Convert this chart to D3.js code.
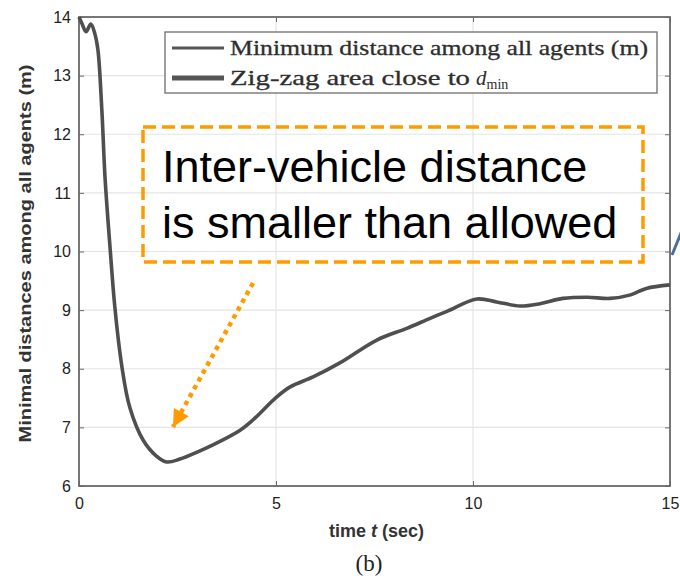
<!DOCTYPE html>
<html>
<head>
<meta charset="utf-8">
<script src="https://cdn.jsdelivr.net/npm/d3@7"></script>
<style>
  body { margin: 0; background: #fff; }
  .gridline { stroke: #e4e4e4; stroke-width: 1.2; }
  .tick-label { font-family: "Liberation Sans", Arial, sans-serif; font-size: 16px; fill: #222; }
</style>
</head>
<body>
<svg id="chart"></svg>
<script>
// SVG size params
var width = 680;
var height = 579;
var margin = {top: 17, right: 10, bottom: 93, left: 79};

// Chart data
var timeSec = [0, 0.08, 0.18, 0.3, 0.4, 0.48, 0.58, 0.66, 0.79, 0.91, 1.09, 1.29, 1.63, 1.95, 2.23, 2.56, 3.07, 3.4, 4.09, 4.42, 5.02, 5.36, 5.94, 6.62, 7.56, 8.32, 8.91, 9.34, 10.1, 10.6, 11.19, 11.7, 12.28, 12.9, 13.48, 14.0, 14.4, 15];
var minDistance = [14.0, 13.88, 13.75, 13.88, 13.72, 13.44, 12.41, 11.27, 10.05, 9.05, 8.03, 7.34, 6.78, 6.52, 6.41, 6.46, 6.6, 6.7, 6.95, 7.13, 7.52, 7.69, 7.86, 8.10, 8.49, 8.69, 8.86, 8.98, 9.19, 9.14, 9.07, 9.11, 9.2, 9.22, 9.2, 9.26, 9.37, 9.43];
var xTicks = [0, 5, 10, 15];
var yTicks = [6, 7, 8, 9, 10, 11, 12, 13, 14];
var legendLabels = ["Minimum distance among all agents (m)", "Zig-zag area close to"];
var noteLines = ["Inter-vehicle distance", "is smaller than allowed"];

var innerW = width - margin.left - margin.right;
var innerH = height - margin.top - margin.bottom;

// Initiate SVG
var svg = d3.select("#chart")
            .attr("width", width)
            .attr("height", height);

var x = d3.scaleLinear().domain([0, 15]).range([margin.left, margin.left + innerW]);
var y = d3.scaleLinear().domain([6, 14]).range([margin.top + innerH, margin.top]);

// Add gridlines
var grid = svg.append("g").attr("id", "gridLines");
grid.selectAll(".gx")
    .data(xTicks)
  .enter().append("line")
    .attr("class", "gridline")
    .attr("x1", d => x(d)).attr("x2", d => x(d))
    .attr("y1", y(6)).attr("y2", y(14));
grid.selectAll(".gy")
    .data(yTicks)
  .enter().append("line")
    .attr("class", "gridline")
    .attr("x1", x(0)).attr("x2", x(15))
    .attr("y1", d => y(d)).attr("y2", d => y(d));

// Axes, MATLAB style ticks pointing inwards
var tickLen = 5;
var axisColor = "#6a6a6a";
svg.append("g")
    .attr("transform", "translate(0," + y(6) + ")")
    .call(d3.axisBottom(x).tickValues(xTicks).tickSize(-tickLen).tickPadding(12).tickFormat(d3.format("d")))
    .call(g => g.select(".domain").remove())
    .call(g => g.selectAll("line").attr("stroke", axisColor))
    .call(g => g.selectAll("text").attr("class", "tick-label").attr("font-size", null).attr("font-family", null));
svg.append("g")
    .attr("transform", "translate(0," + y(14) + ")")
    .call(d3.axisTop(x).tickValues(xTicks).tickSize(-tickLen).tickFormat(""))
    .call(g => g.select(".domain").remove())
    .call(g => g.selectAll("line").attr("stroke", axisColor));
svg.append("g")
    .attr("transform", "translate(" + x(0) + ",0)")
    .call(d3.axisLeft(y).tickValues(yTicks).tickSize(-tickLen).tickPadding(8).tickFormat(d3.format("d")))
    .call(g => g.select(".domain").remove())
    .call(g => g.selectAll("line").attr("stroke", axisColor))
    .call(g => g.selectAll("text").attr("class", "tick-label").attr("font-size", null).attr("font-family", null));
svg.append("g")
    .attr("transform", "translate(" + x(15) + ",0)")
    .call(d3.axisRight(y).tickValues(yTicks).tickSize(-tickLen).tickFormat(""))
    .call(g => g.select(".domain").remove())
    .call(g => g.selectAll("line").attr("stroke", axisColor));

// Plot box
svg.append("rect")
    .attr("x", x(0)).attr("y", y(14))
    .attr("width", x(15) - x(0)).attr("height", y(6) - y(14))
    .attr("fill", "none")
    .attr("stroke", axisColor)
    .attr("stroke-width", 1.8);

// Distance curve
var line = d3.line()
    .x((d, i) => x(timeSec[i]))
    .y(d => y(d))
    .curve(d3.curveCatmullRom.alpha(0.5));
svg.append("path")
    .datum(minDistance)
    .attr("d", line)
    .attr("fill", "none")
    .attr("stroke", "#4f4f4f")
    .attr("stroke-width", 3.6)
    .attr("stroke-linejoin", "round");

// Legend
var legend = svg.append("g").attr("id", "legend");
legend.append("rect")
    .attr("x", 165).attr("y", 32)
    .attr("width", 492).attr("height", 61)
    .attr("fill", "#fff")
    .attr("stroke", "#777")
    .attr("stroke-width", 1.4);
legend.selectAll(".lg-line")
    .data(legendLabels)
  .enter().append("line")
    .attr("x1", 172).attr("x2", 224)
    .attr("y1", (d, i) => 48 + i * 30).attr("y2", (d, i) => 48 + i * 30)
    .attr("stroke", "#555")
    .attr("stroke-width", (d, i) => i === 0 ? 3 : 5);
legend.selectAll(".lg-text")
    .data(legendLabels)
  .enter().append("text")
    .attr("x", 230)
    .attr("y", (d, i) => 55 + i * 30)
    .attr("font-family", "'Liberation Serif', 'Times New Roman', serif")
    .attr("font-size", 21)
    .attr("fill", "#2e2e2e")
    .attr("stroke", "#2e2e2e")
    .attr("stroke-width", 0.3)
    .attr("textLength", (d, i) => i === 0 ? 418 : 240)
    .attr("lengthAdjust", "spacingAndGlyphs")
    .text(d => d);
var dmin = legend.append("text")
    .attr("x", 476)
    .attr("y", 85)
    .attr("font-family", "'Liberation Serif', 'Times New Roman', serif")
    .attr("font-size", 21)
    .attr("fill", "#2e2e2e");
dmin.append("tspan").attr("font-style", "italic").text("d");
dmin.append("tspan").attr("font-size", 14).attr("dy", 4).text("min");

// Axis labels
svg.append("text")
    .attr("transform", "translate(31," + (y(10) + 2) + ") rotate(-90)")
    .attr("text-anchor", "middle")
    .attr("font-family", "'Liberation Sans', Arial, sans-serif")
    .attr("font-weight", "bold")
    .attr("font-size", 16)
    .attr("fill", "#333")
    .attr("textLength", 378)
    .attr("lengthAdjust", "spacingAndGlyphs")
    .text("Minimal distances among all agents (m)");

var xLabel = svg.append("text")
    .attr("x", (x(0) + x(15)) / 2 + 2)
    .attr("y", 537)
    .attr("text-anchor", "middle")
    .attr("font-family", "'Liberation Sans', Arial, sans-serif")
    .attr("font-weight", "bold")
    .attr("font-size", 18)
    .attr("fill", "#333");
xLabel.append("tspan").text("time ");
xLabel.append("tspan").attr("font-style", "italic").text("t");
xLabel.append("tspan").text(" (sec)");

svg.append("text")
    .attr("x", 369)
    .attr("y", 571)
    .attr("text-anchor", "middle")
    .attr("font-family", "'Liberation Serif', 'Times New Roman', serif")
    .attr("font-size", 23)
    .attr("fill", "#222")
    .text("(b)");

// Orange annotation box
var orange = "#ff9a00";
svg.append("rect")
    .attr("x", 143).attr("y", 127)
    .attr("width", 500).attr("height", 135)
    .attr("fill", "none")
    .attr("stroke", orange)
    .attr("stroke-width", 3.5)
    .attr("stroke-dasharray", "13,6");
svg.selectAll(".note")
    .data(noteLines)
  .enter().append("text")
    .attr("x", 162)
    .attr("y", (d, i) => 182 + i * 56)
    .attr("font-family", "'Liberation Sans', Arial, sans-serif")
    .attr("font-size", 45)
    .attr("fill", "#000")
    .text(d => d);

// Dotted arrow pointing at the minimum
svg.append("defs").append("marker")
    .attr("id", "arrowHead")
    .attr("viewBox", "0 0 10 10")
    .attr("refX", 10).attr("refY", 5)
    .attr("markerWidth", 3.8).attr("markerHeight", 3.8)
    .attr("markerUnits", "strokeWidth")
    .attr("orient", "auto")
  .append("path")
    .attr("d", "M0,0 L10,5 L0,10 Z")
    .attr("fill", orange);
svg.append("line")
    .attr("x1", 253).attr("y1", 283)
    .attr("x2", 173).attr("y2", 427)
    .attr("stroke", orange)
    .attr("stroke-width", 4.5)
    .attr("stroke-dasharray", "4.5,4.5")
    .attr("marker-end", "url(#arrowHead)");

// Fragment of a blue connector at the right edge
svg.append("line")
    .attr("x1", 672).attr("y1", 255)
    .attr("x2", 683).attr("y2", 228)
    .attr("stroke", "#4a6f9a")
    .attr("stroke-width", 3);
</script>
</body>
</html>
